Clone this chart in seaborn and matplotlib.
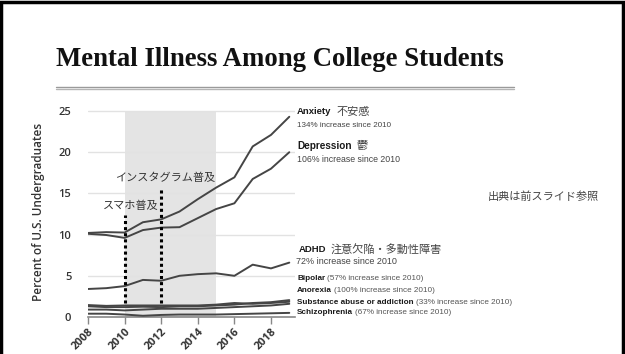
import numpy as np
import pandas as pd
import matplotlib
matplotlib.use("Agg")
import matplotlib.pyplot as plt
import seaborn as sns
from matplotlib.patches import Rectangle
from matplotlib.lines import Line2D

# ---------------- data ----------------
years = list(range(2008, 2020))
anxiety = [10.2, 10.3, 10.25, 11.5, 11.85, 12.8, 14.3, 15.7, 16.95, 20.7, 22.1, 24.3]
depression = [10.1, 9.95, 9.6, 10.55, 10.85, 10.9, 12.0, 13.1, 13.8, 16.75, 18.0, 20.0]
adhd = [3.4, 3.5, 3.75, 4.5, 4.4, 5.0, 5.2, 5.3, 5.0, 6.35, 5.9, 6.6]
bipolar = [1.3, 1.2, 1.2, 1.25, 1.2, 1.3, 1.3, 1.4, 1.5, 1.7, 1.8, 2.05]
anorexia = [0.9, 0.9, 0.8, 0.9, 1.0, 1.0, 1.0, 1.1, 1.2, 1.3, 1.4, 1.6]
substance = [1.45, 1.35, 1.4, 1.4, 1.4, 1.4, 1.4, 1.5, 1.7, 1.6, 1.7, 1.85]
schizophrenia = [0.4, 0.4, 0.3, 0.15, 0.25, 0.3, 0.3, 0.3, 0.35, 0.4, 0.45, 0.5]

series_names = ["Anxiety", "Depression", "ADHD", "Bipolar", "Anorexia",
                "Substance abuse or addiction", "Schizophrenia"]
series_values = [anxiety, depression, adhd, bipolar, anorexia, substance, schizophrenia]

shade_span = [2010, 2015]
event_years = [2010, 2012]
event_tops = [12.4, 15.6]
event_bottom = 1.7
event_labels = ["スマホ普及", "インスタグラム普及"]

x_ticks = [2008, 2010, 2012, 2014, 2016, 2018]
y_ticks = [0, 5, 10, 15, 20, 25]

title = "Mental Illness Among College Students"
ylabel = "Percent of U.S. Undergraduates"
source_note = "出典は前スライド参照"

# ---------------- style ----------------
sns.set_theme(style="white")
plt.rcParams["font.family"] = ["Liberation Sans", "Noto Sans CJK JP", "DejaVu Sans"]

W, H = 625, 354
fig = plt.figure(figsize=(W / 100, H / 100), dpi=100)

def fx(px):
    return px / W

def fy(py):
    return 1 - py / H

# axes: 2008 at x=88px, y=0 at 317px, 8.24 px per unit, 18.3 px per year
y_top = 25.6
x_right = 2019.3
ax_left, ax_bottom = fx(88), fy(317)
ax_w = fx(18.3 * (x_right - 2008))
ax_h = (8.24 * y_top) / H
ax = fig.add_axes([ax_left, ax_bottom, ax_w, ax_h])

df = pd.DataFrame({
    "year": years * len(series_names),
    "value": sum(series_values, []),
    "series": sum([[n] * len(years) for n in series_names], []),
})

ax.axvspan(shade_span[0], shade_span[1], ymin=0, ymax=25 / y_top,
           color="#e4e4e4", lw=0, zorder=0)

for y in y_ticks[1:]:
    ax.axhline(y, color="#e2e2e2", lw=1.0, zorder=0.5)

sns.lineplot(data=df, x="year", y="value", units="series", estimator=None,
             color="#454545", lw=1.4, ax=ax, legend=False, zorder=3)

ax.vlines(event_years, event_bottom, event_tops, colors="black",
          linestyles=(0, (1, 1)), lw=2.2, zorder=4)

jp = ["Noto Sans CJK JP", "DejaVu Sans"]
ax.text(2011.85, 13.5, event_labels[0], ha="right", va="center",
        fontsize=8, color="#333333", family=jp, zorder=5)
ax.text(2012.2, 16.9, event_labels[1], ha="center", va="center",
        fontsize=8, color="#333333", family=jp, zorder=5)

ax.set_xlim(2008, x_right)
ax.set_ylim(0, y_top)
ax.set_xticks(x_ticks)
ax.set_yticks(y_ticks)
ax.set_xticklabels([str(t) for t in x_ticks], rotation=45, ha="right",
                   rotation_mode="anchor", fontsize=8, fontweight="bold",
                   color="#333333", family="Open Sans")
ax.set_yticklabels([str(t) for t in y_ticks], fontsize=8,
                   color="#333333", family="Open Sans", fontweight="semibold")
ax.tick_params(axis="x", which="both", bottom=True, length=5, width=1,
               color="#888888", pad=2)
ax.tick_params(axis="y", which="both", left=False, pad=6)
ax.set_xlabel("")
ax.set_ylabel(ylabel, fontsize=8.5, color="#333333", family="Open Sans",
              fontweight="semibold", labelpad=10)
for s in ["top", "right", "left"]:
    ax.spines[s].set_visible(False)
ax.spines["bottom"].set_color("#888888")
ax.spines["bottom"].set_linewidth(1.2)

# ---------------- right-hand labels ----------------
mixed = ["Liberation Sans", "Noto Sans CJK JP", "DejaVu Sans"]

def label_pair(x, y, bold_text, rest, bold_size, rest_size, rest_color="#333333",
               rest_family=None, gap=3):
    t = fig.text(fx(x), fy(y), bold_text, ha="left", va="center",
                 fontsize=bold_size, fontweight="bold", color="#1a1a1a",
                 family=mixed)
    if rest:
        ax.annotate(rest, xy=(1, 0.5), xycoords=t, xytext=(gap, 0),
                    textcoords="offset points", ha="left", va="center",
                    fontsize=rest_size, color=rest_color,
                    family=rest_family or mixed, annotation_clip=False)
    return t

label_pair(297, 112, "Anxiety", "不安感", 6.8, 8, "#444444", jp, 4)
fig.text(fx(297), fy(126), "134% increase since 2010", ha="left", va="center",
         fontsize=5.8, color="#444444", family=mixed)
label_pair(297, 146, "Depression", "鬱", 7.2, 8, "#444444", jp, 4)
fig.text(fx(297), fy(159), "106% increase since 2010", ha="left", va="center",
         fontsize=6.3, color="#444444", family=mixed)
label_pair(299, 250, "ADHD", "注意欠陥・多動性障害", 6.8, 8, "#444444", jp, 3)
fig.text(fx(296), fy(262), "72% increase since 2010", ha="left", va="center",
         fontsize=6.5, color="#444444", family=mixed)

small = [("Bipolar", "(57% increase since 2010)", 279),
         ("Anorexia", "(100% increase since 2010)", 291),
         ("Substance abuse or addiction", "(33% increase since 2010)", 302),
         ("Schizophrenia", "(67% increase since 2010)", 313)]
for b, r, y in small:
    label_pair(297, y, b, r, 5.9, 5.9, "#555555", mixed, 1.5)

fig.text(fx(488), fy(197), source_note, ha="left", va="center",
         fontsize=8, color="#444444", family=jp)

# ---------------- title & frame ----------------
fig.text(fx(56), fy(60), title, ha="left", va="center", fontsize=19.3,
         fontweight="bold", color="#111111", family="Liberation Serif")
fig.add_artist(Line2D([fx(56), fx(514)], [fy(86.5), fy(86.5)],
                      color="#9a9a9a", lw=1.0))
fig.add_artist(Line2D([fx(56), fx(514)], [fy(89), fy(89)],
                      color="#b5b5b5", lw=1.0))
fig.add_artist(Rectangle((0.002, -0.01), 0.995, 1.005, transform=fig.transFigure,
                         fill=False, edgecolor="black", lw=2.5))

fig.savefig("out.png", dpi=100)
